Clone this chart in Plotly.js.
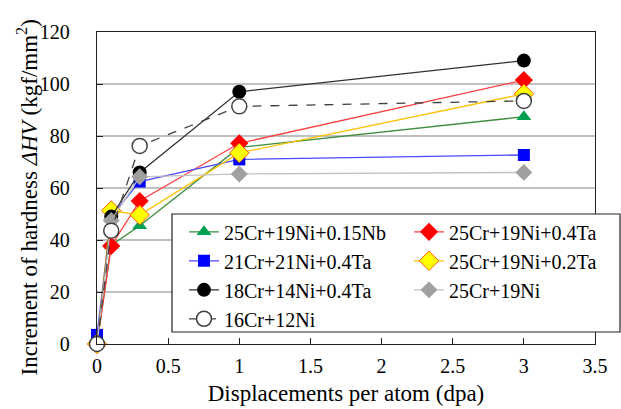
<!DOCTYPE html>
<html><head><meta charset="utf-8">
<script src="https://cdn.plot.ly/plotly-3.0.1.min.js"></script>
<style>html,body{margin:0;padding:0;background:#fff}#c{width:621px;height:409px}</style>
</head><body><div id="c"></div>
<script>
const dpa = [0, 0.1, 0.3, 1, 3];
const names = ["25Cr+19Ni+0.15Nb","25Cr+19Ni+0.4Ta","21Cr+21Ni+0.4Ta","25Cr+19Ni+0.2Ta","18Cr+14Ni+0.4Ta","25Cr+19Ni","16Cr+12Ni"];
const nb015 = [0, 38, 45.5, 75.6, 87.4];
const ta04 = [0, 37.7, 55, 77.2, 101.5];
const ni21ta = [3.5, 49, 62.5, 71, 72.7];
const ta02 = [0, 51.3, 49.6, 73.5, 96.2];
const cr18 = [0, 49, 66, 97, 109];
const base = [0, 47.5, 64.3, 65.4, 66];
const cr16 = [0, 43.6, 76.2, 91.4, 93.5];
const xTitle = 'Displacements per atom (dpa)';
const yTitle = 'Increment of hardness <i>ΔHV</i> (kgf/mm<sup>2</sup>)';

const font = 'Liberation Serif';
function tr(i, y, leg, lineColor, dash, sym, size, fill, mline, mlw){
  return {x: dpa, y: y, name: names[i], legend: leg, legendgroup: 'g' + i, type:'scatter', mode:'lines+markers', cliponaxis:false,
    line:{color:lineColor, width:1.3, dash:dash},
    marker:{symbol:sym, size:size, color:fill, line:{color:mline, width:mlw}}};
}
const data = [
  tr(0, nb015, 'legend', '#3c8c3c', 'solid', 'triangle-up', 13, '#00a050', '#00a050', 0),
  tr(1, ta04, 'legend2', '#ff4040', 'solid', 'diamond', 14, '#ff0000', '#ff0000', 0),
  tr(2, ni21ta, 'legend', '#4848ff', 'solid', 'square', 12, '#0000ff', '#0000ff', 0),
  tr(3, ta02, 'legend2', '#ffc000', 'solid', 'diamond', 15, '#ffff00', '#ff6000', 1),
  tr(4, cr18, 'legend', '#303030', 'solid', 'circle', 14, '#000000', '#000000', 0),
  tr(5, base, 'legend2', '#c0c0c0', 'solid', 'diamond', 13, '#a0a0a0', '#a0a0a0', 0),
  tr(6, cr16, 'legend', '#404040', 'dash', 'circle', 15, '#ffffff', '#404040', 1.5)
];
const legBase = {orientation:'v', yanchor:'top', xanchor:'left', y:0.422, bgcolor:'rgba(0,0,0,0)', borderwidth:0,
  tracegroupgap:1, font:{family:font, size:20, color:'#000'}, traceorder:'normal'};
const layout = {
  width:621, height:409, paper_bgcolor:'#fff', plot_bgcolor:'#fff',
  margin:{l:97, r:26, t:32, b:65},
  font:{family:font, color:'#000', size:20},
  showlegend:true,
  legend: Object.assign({}, legBase, {x:0.1747}),
  legend2: Object.assign({}, legBase, {x:0.6265}),
  shapes:[{type:'rect', xref:'paper', yref:'paper', x0:0.1506, x1:1.0502, y0:0.0385, y1:0.4167,
    fillcolor:'#ffffff', line:{color:'#222', width:1.2}, layer:'above'}],
  annotations:[{text:yTitle, xref:'paper', yref:'paper', x:-0.1386, y:0.4696, xanchor:'center', yanchor:'middle',
    textangle:-90, showarrow:false, font:{family:font, size:23, color:'#000'}}],
  xaxis:{range:[0,3.5], dtick:0.5, tick0:0, showgrid:false, zeroline:false, automargin:false,
    showline:true, linecolor:'#222', linewidth:1.3, mirror:true,
    ticks:'inside', ticklen:6, tickcolor:'#222', ticklabelstandoff:4,
    tickfont:{family:font, size:20},
    title:{text:xTitle, font:{family:font, size:23}, standoff:8}},
  yaxis:{range:[0,120], dtick:20, tick0:0, showgrid:true, gridcolor:'#c0c0c0', gridwidth:1.3, zeroline:false, automargin:false,
    showline:true, linecolor:'#222', linewidth:1.3, mirror:true,
    ticks:'inside', ticklen:6, tickcolor:'#222', ticklabelstandoff:22,
    tickfont:{family:font, size:20}}
};
Plotly.newPlot('c', data, layout, {displayModeBar:false, staticPlot:true});
</script></body></html>
